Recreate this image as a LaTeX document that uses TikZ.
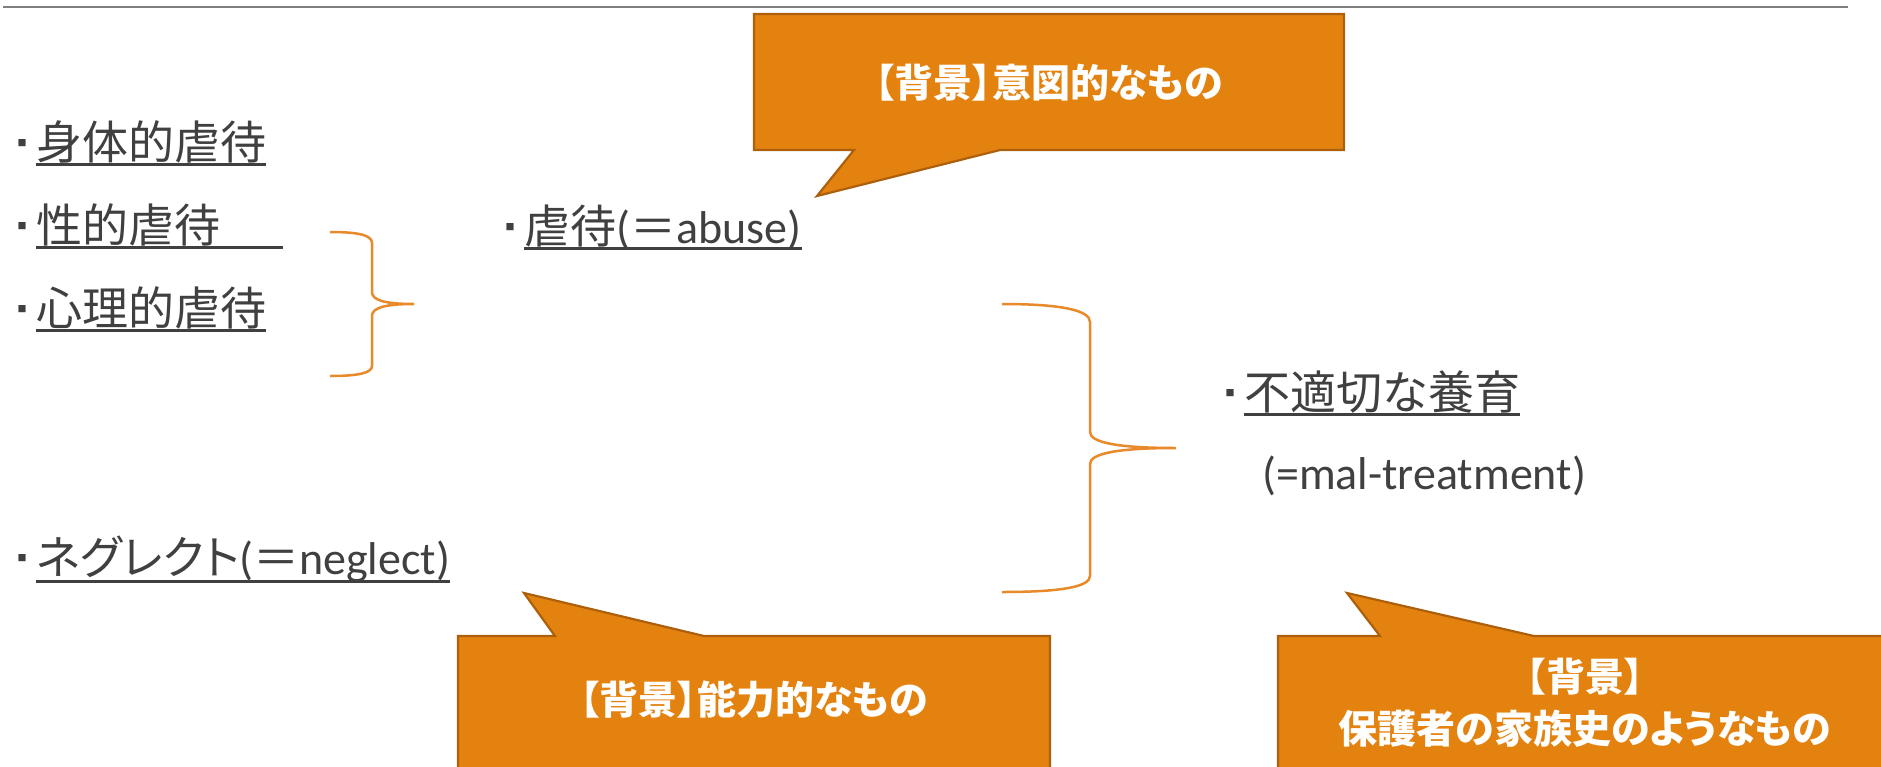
\documentclass[tikz,border=0pt]{standalone}
\usepackage{fontspec}
\setmainfont{Carlito}
\newfontfamily\jp{Noto Sans CJK JP}
\newfontfamily\jpp[RawFeature=+palt]{Noto Sans CJK JP}
\definecolor{txt}{HTML}{404040}
\definecolor{org}{HTML}{E4820F}
\definecolor{orgdark}{HTML}{AC600C}
\definecolor{brc}{HTML}{E8892A}
\definecolor{rulecol}{HTML}{7F7F7F}
\newcommand{\bul}{\llap{\raisebox{13pt}{\jp\fontsize{9}{9}\selectfont ■}\hspace{9.5pt}}}
\begin{document}
\begin{tikzpicture}[x=1pt,y=-1pt,
 item/.style={anchor=base west,inner sep=0pt,text=txt,font=\fontsize{46}{55}\selectfont},
 uline/.style={draw=txt,line width=3pt},
 brace/.style={draw=brc,line width=2.5pt},
 callout/.style={fill=org,draw=orgdark,line width=2.2pt,line join=miter},
 ctext/.style={anchor=base,inner sep=0pt,text=white,font=\jpp\bfseries\fontsize{39}{47}\selectfont}]
\useasboundingbox (0,0) rectangle (1881,766);
\begin{scope}
\clip (0,0) rectangle (1881,766);
% top rule
\coordinate (r1) at (3,7);
\coordinate (r2) at (1848,7);
\draw[draw=rulecol,line width=2pt] (r1) -- (r2);

% callouts
\draw[callout] (754,14) -- (1344,14) -- (1344,150) -- (1000,150) -- (817,196) -- (854,150) -- (754,150) -- cycle;
\draw[callout] (458,636) -- (555,636) -- (524,593) -- (704,636) -- (1050,636) -- (1050,800) -- (458,800) -- cycle;
\draw[callout] (1278,636) -- (1380,636) -- (1347,593) -- (1534,636) -- (1900,636) -- (1900,800) -- (1278,800) -- cycle;
\node[ctext] (c1) at (1049,97) {【背景】意図的なもの};
\node[ctext] (c2) at (754,714) {【背景】能力的なもの};
\node[ctext] (c3a) at (1585,691) {【背景】};
\node[ctext] (c3b) at (1585,743) {保護者の家族史のようなもの};

% left list
\node[item] (t1) at (36,159) {\bul{\jp 身体的虐待}};
\node[item] (t2) at (36,242) {\bul\makebox[247pt][l]{\jp 性的虐待}};
\node[item] (t3) at (36,325) {\bul{\jp 心理的虐待}};
\node[item] (t4) at (36,574) {\bul{\jpp ネグレクト}({\jp ＝}neglect)};
\node[item] (t5) at (524,243) {\bul{\jp 虐待}({\jp ＝}abuse)};
\node[item] (t6) at (1244,409) {\bul{\jp 不適切な養育}};
\node[item] (t7) at (1262,489) {(=mal-treatment)};

\foreach \n in {t1,t2,t3,t5,t6}
  \draw[uline] ([yshift=-5pt]\n.base west) -- ([yshift=-5pt]\n.base east);
\draw[uline] ([yshift=-7pt]t4.base west) -- ([yshift=-7pt]t4.base east);

% braces
\draw[brace] (330,232) .. controls (358,232) and (372,235) .. (372,243) -- (372,292)
  .. controls (372,300) and (384,304) .. (414,304)
  .. controls (384,304) and (372,308) .. (372,316) -- (372,366)
  .. controls (372,373) and (358,376) .. (330,376);
\draw[brace] (1002,304) .. controls (1060,304) and (1090,310) .. (1090,322) -- (1090,432)
  .. controls (1090,443) and (1120,448) .. (1176,448)
  .. controls (1120,448) and (1090,453) .. (1090,464) -- (1090,576)
  .. controls (1090,587) and (1060,592) .. (1002,592);
\end{scope}
\end{tikzpicture}
\end{document}
